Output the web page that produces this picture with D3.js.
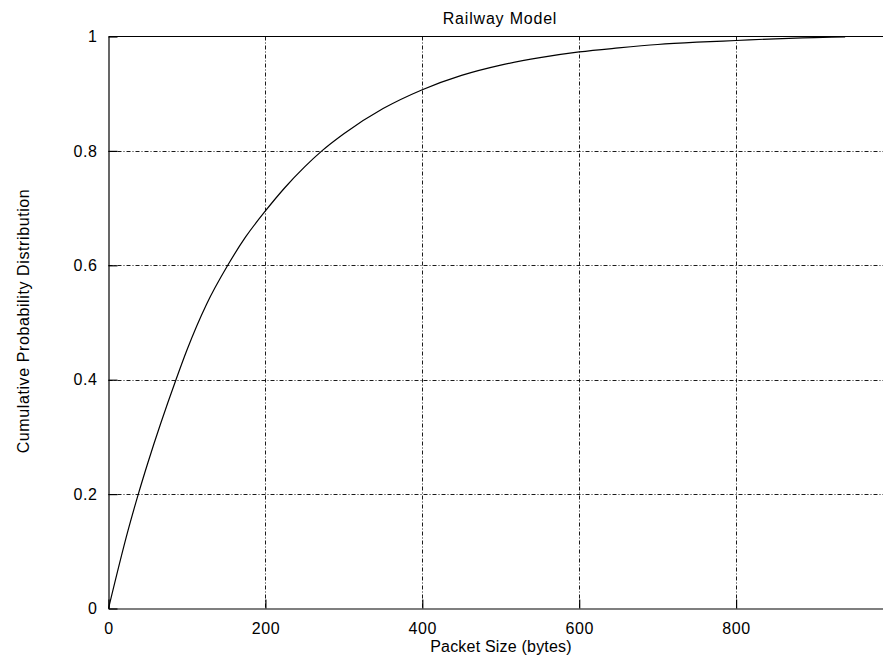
<!DOCTYPE html>
<html>
<head>
<meta charset="utf-8">
<script src="https://cdn.jsdelivr.net/npm/d3@7/dist/d3.min.js"></script>
<style>
  html, body { margin: 0; padding: 0; background: #fff; }
  svg { display: block; }
  text { font-family: "Liberation Sans", Arial, Helvetica, sans-serif; fill: #000; }
</style>
</head>
<body>
<svg id="chart" width="883" height="662"></svg>
<script>
// Packet size (bytes) and cumulative probability for the railway traffic model
const packetSize = [0, 25, 38, 50, 86, 100, 125, 152, 175, 200, 225, 250, 272, 300, 350, 400, 450, 500, 550, 600, 650, 700, 750, 800, 850, 900, 939];
const cumulativeProb = [0, 0.137, 0.2, 0.254, 0.4, 0.452, 0.532, 0.6, 0.65, 0.695, 0.736, 0.772, 0.8, 0.83, 0.874, 0.907, 0.932, 0.95, 0.963, 0.973, 0.98, 0.986, 0.99, 0.993, 0.996, 0.998, 0.9995];

const xTicks = [0, 200, 400, 600, 800];
const yTicks = [0, 0.2, 0.4, 0.6, 0.8, 1];
const yTickLabels = ["0", "0.2", "0.4", "0.6", "0.8", "1"];

const titleText = "Railway Model";
const xAxisTitle = "Packet Size (bytes)";
const yAxisTitle = "Cumulative Probability Distribution";

const svg = d3.select("#chart");
const plotLeft = 108.5, plotRight = 893, plotTop = 36.5, plotBottom = 608.5;

const x = d3.scaleLinear().domain([0, 1000]).range([plotLeft, plotRight]);
const y = d3.scaleLinear().domain([0, 1]).range([plotBottom, plotTop]);

// grid lines (dash-dot)
const grid = svg.append("g").attr("stroke", "#000").attr("stroke-width", 0.9)
  .attr("stroke-dasharray", "4,2,1,2").attr("fill", "none");
grid.selectAll("line.v").data(xTicks.filter(d => d > 0)).join("line")
  .attr("x1", d => Math.round(x(d)) + 0.5).attr("x2", d => Math.round(x(d)) + 0.5)
  .attr("y1", plotTop).attr("y2", plotBottom);
grid.selectAll("line.h").data(yTicks.filter(d => d > 0 && d < 1)).join("line")
  .attr("y1", d => Math.round(y(d)) + 0.5).attr("y2", d => Math.round(y(d)) + 0.5)
  .attr("x1", plotLeft).attr("x2", plotRight);

// axes with inward ticks
const xAxis = d3.axisBottom(x).tickValues(xTicks).tickSizeInner(-9).tickSizeOuter(0).tickPadding(14);
const yAxis = d3.axisLeft(y).tickValues(yTicks).tickSizeInner(-9).tickSizeOuter(0).tickPadding(11)
  .tickFormat((d, i) => yTickLabels[i]);

const gx = svg.append("g").attr("transform", `translate(0,${plotBottom})`).call(xAxis);
const gy = svg.append("g").attr("transform", `translate(${plotLeft},0)`).call(yAxis);
[gx, gy].forEach(g => {
  g.select(".domain").attr("stroke", "#000").attr("stroke-width", 1.2);
  g.selectAll(".tick line").attr("stroke", "#000").attr("stroke-width", 1.2);
  g.selectAll(".tick text").attr("font-size", 16).attr("font-family", "Liberation Sans, Arial, sans-serif")
    .style("letter-spacing", "0.6px").attr("fill", "#000");
});

// top frame line
svg.append("line").attr("x1", plotLeft).attr("x2", plotRight).attr("y1", plotTop).attr("y2", plotTop)
  .attr("stroke", "#000").attr("stroke-width", 1.2);

// CDF curve
const line = d3.line().x((d, i) => x(packetSize[i])).y(d => y(d)).curve(d3.curveMonotoneX);
svg.append("path").datum(cumulativeProb).attr("d", line)
  .attr("fill", "none").attr("stroke", "#000").attr("stroke-width", 1.2);

// titles
svg.append("text").attr("x", 500).attr("y", 24).attr("text-anchor", "middle")
  .attr("font-size", 16).style("letter-spacing", "0.8px").text(titleText);
svg.append("text").attr("x", 501).attr("y", 652).attr("text-anchor", "middle")
  .attr("font-size", 16).style("letter-spacing", "0.2px").text(xAxisTitle);
svg.append("text").attr("transform", "translate(29,321) rotate(-90)").attr("text-anchor", "middle")
  .attr("font-size", 16).style("letter-spacing", "0.6px").text(yAxisTitle);
</script>
</body>
</html>
